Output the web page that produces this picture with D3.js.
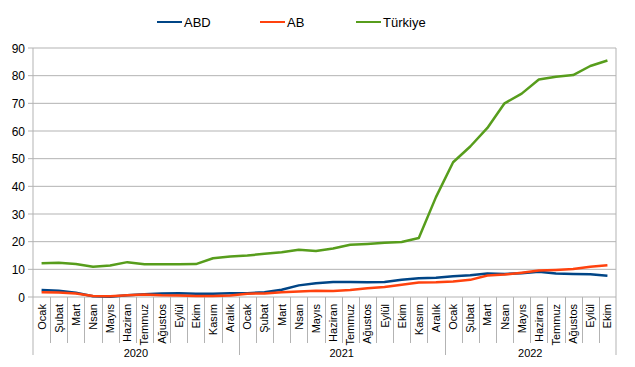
<!DOCTYPE html>
<html><head><meta charset="utf-8">
<script src="https://cdn.jsdelivr.net/npm/d3@7"></script>
<style>body{margin:0;background:#fff}svg{font-family:"Liberation Sans",Arial,sans-serif}</style>
</head><body><svg id="c" width="635" height="367"></svg>
<script>
const months = ["Ocak","Şubat","Mart","Nisan","Mayıs","Haziran","Temmuz","Ağustos","Eylül","Ekim","Kasım","Aralık"];
const monthLabels = ["Ocak","Şubat","Mart","Nsan","Mayıs","Haziran","Temmuz","Ağustos","Eylül","Ekim","Kasım","Aralık"];
const years = ["2020","2021","2022"];
const monthsPerYear = [12,12,10];
const seriesNames = ["ABD","AB","Türkiye"];
const colors = ["#004586","#ff420e","#579d1c"];
const abd = [2.5,2.3,1.5,0.3,0.1,0.6,1.0,1.3,1.4,1.2,1.2,1.4, 1.4,1.7,2.6,4.2,5.0,5.4,5.4,5.3,5.4,6.2,6.8,7.0, 7.5,7.9,8.5,8.3,8.6,9.1,8.5,8.3,8.2,7.7];
const ab  = [1.7,1.6,1.3,0.4,0.3,0.6,0.9,0.6,0.5,0.4,0.4,0.5, 1.2,1.3,1.7,2.0,2.3,2.2,2.5,3.2,3.6,4.4,5.2,5.3, 5.6,6.2,7.8,8.1,8.8,9.6,9.8,10.1,10.9,11.5];
const tr  = [12.2,12.4,11.9,10.9,11.4,12.6,11.8,11.8,11.8,11.9,14.0,14.6, 15.0,15.6,16.2,17.1,16.6,17.5,18.9,19.2,19.6,19.9,21.3,36.1, 48.7,54.4,61.1,70.0,73.5,78.6,79.6,80.2,83.5,85.5];
const yTicks = [0,10,20,30,40,50,60,70,80,90];

const svg = d3.select("#c");
const L=33, R=616, T=48, B=297;
const cats=[]; years.forEach((y,i)=>{for(let m=0;m<monthsPerYear[i];m++) cats.push(y+"-"+m);});
const x = d3.scaleBand().domain(cats).range([L,R]);
const y = d3.scaleLinear().domain([0,90]).range([B,T]);
const grid="#b3b3b3";

// gridlines
svg.append("g").selectAll("line").data(yTicks).join("line")
 .attr("x1",L-5).attr("x2",R).attr("y1",d=>y(d)).attr("y2",d=>y(d)).attr("stroke",grid).attr("stroke-width",1);
svg.append("g").selectAll("text").data(yTicks).join("text")
 .attr("x",25).attr("y",d=>y(d)+4.5).attr("text-anchor","end").attr("font-size",12).attr("fill","#000").text(d=>d);
// axis verticals
svg.append("line").attr("x1",L).attr("x2",L).attr("y1",T).attr("y2",355).attr("stroke",grid);
svg.append("line").attr("x1",R).attr("x2",R).attr("y1",T).attr("y2",355).attr("stroke",grid);
// month separators
cats.forEach((c,i)=>{ if(i===0) return;
  const xx = Math.round(x(c))+0.5;
  const yearStart = (i===12||i===24);
  svg.append("line").attr("x1",xx).attr("x2",xx).attr("y1",B).attr("y2",yearStart?355:343).attr("stroke",grid);
});
// month labels
cats.forEach((c,i)=>{
  const m=+c.split("-")[1];
  const cx=x(c)+x.bandwidth()/2+4;
  svg.append("text").attr("transform",`translate(${cx},304) rotate(-90)`).attr("text-anchor","end")
   .attr("font-size",11).attr("fill","#000").text(monthLabels[m]);
});
// year labels
let start=0;
years.forEach((yr,i)=>{
  const a=x(cats[start]), b=x(cats[start+monthsPerYear[i]-1])+x.bandwidth();
  svg.append("text").attr("x",(a+b)/2).attr("y",357).attr("text-anchor","middle").attr("font-size",11).text(yr);
  start+=monthsPerYear[i];
});
// lines
const line=d3.line().x((d,i)=>x(cats[i])+x.bandwidth()/2).y(d=>y(d));
[abd,ab,tr].forEach((s,k)=>{
  svg.append("path").datum(s).attr("d",line).attr("fill","none").attr("stroke",colors[k]).attr("stroke-width",2.5).attr("stroke-linejoin","round");
});
// legend
const lx=[157,260,356];
seriesNames.forEach((n,k)=>{
  svg.append("line").attr("x1",lx[k]).attr("x2",lx[k]+25).attr("y1",22).attr("y2",22).attr("stroke",colors[k]).attr("stroke-width",2);
  svg.append("text").attr("x",lx[k]+27).attr("y",27).attr("font-size",13).text(n);
});
</script></body></html>
